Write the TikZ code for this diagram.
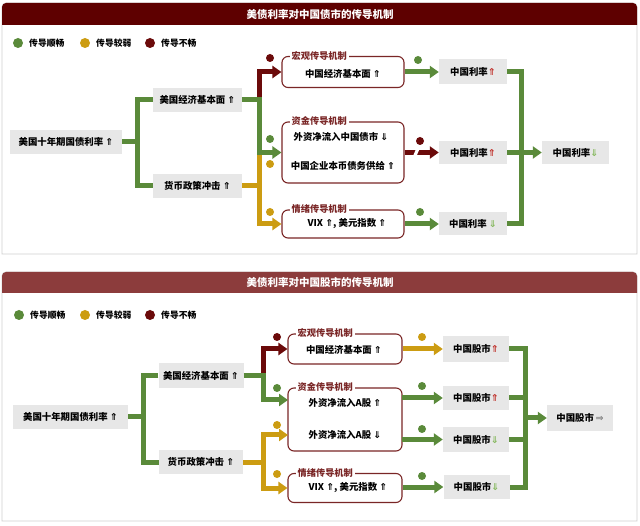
\documentclass[tikz,border=0pt]{standalone}
\usepackage{fontspec}
\setmainfont{Noto Sans CJK SC}
\newfontfamily\arr{DejaVu Sans}
\usetikzlibrary{arrows.meta,calc}
\definecolor{cg}{HTML}{5A8A3A}
\definecolor{cy}{HTML}{CC9C12}
\definecolor{cr}{HTML}{6B0A0A}
\definecolor{hdA}{HTML}{5E0000}
\definecolor{hdB}{HTML}{8C3C3C}
\definecolor{bx}{HTML}{E7E7E7}
\definecolor{mb}{HTML}{7A2626}
\definecolor{upc}{HTML}{C0302A}
\definecolor{dnc}{HTML}{86B85E}
\definecolor{frame}{HTML}{CFCFCF}
\newcommand\UpA[1][black]{{\arr\bfseries\fontsize{9.5}{10}\selectfont\color{#1}⇑}}
\newcommand\DnA[1][black]{{\arr\bfseries\fontsize{9.5}{10}\selectfont\color{#1}⇓}}
\newcommand\RtA[1][black]{{\arr\bfseries\fontsize{9.5}{10}\selectfont\color{#1}⇒}}
\tikzset{
  txt/.style={font=\fontsize{9.4}{11}\selectfont\bfseries, inner sep=0pt},
  gbox/.style={txt, fill=bx, minimum height=24pt},
  mbox/.style={draw=mb, line width=1.1pt, rounded corners=6pt, inner sep=0pt},
  mlab/.style={fill=white, text=mb, anchor=west, inner xsep=2pt, inner ysep=1pt, font=\fontsize{9.2}{10}\selectfont\bfseries},
  cn/.style={line width=5pt},
  ar/.style={cn, -{Triangle[length=9pt,width=12pt]}},
  fdot/.style={circle, inner sep=0pt, minimum size=8pt},
  ldot/.style={circle, inner sep=0pt, minimum size=10pt},
  ltxt/.style={font=\fontsize{8.8}{10}\selectfont\bfseries, anchor=west, inner sep=0pt},
  ttl/.style={font=\fontsize{10.5}{12}\selectfont\bfseries, text=white, inner sep=0pt}
}
\begin{document}
\begin{tikzpicture}[x=1pt,y=-1pt]
\fill[white] (0,0) rectangle (640,526);
\useasboundingbox (0,0) rectangle (640,526);

% ===== panel frames =====
\draw[frame, line width=0.8pt] (2,254) {[rounded corners=4pt] -- (2,3) -- (637,3)} -- (637,254) -- cycle;
\fill[hdA] (2,25) {[rounded corners=4pt] -- (2,3) -- (637,3)} -- (637,25) -- cycle;
\node[ttl] (t_title) at (320,14) {美债利率对中国债市的传导机制};

\draw[frame, line width=0.8pt] (2,521) {[rounded corners=4pt] -- (2,272) -- (637,272)} -- (637,521) -- cycle;
\fill[hdB] (2,293) {[rounded corners=4pt] -- (2,272) -- (637,272)} -- (637,293) -- cycle;
\node[ttl] (b_title) at (320,282.5) {美债利率对中国股市的传导机制};

% ===== legends =====
\node[ldot, fill=cg] (t_l1) at (18,43) {};
\node[ltxt] (t_l1t) at (29,43) {传导顺畅};
\node[ldot, fill=cy] (t_l2) at (85,43) {};
\node[ltxt] (t_l2t) at (96,43) {传导较弱};
\node[ldot, fill=cr] (t_l3) at (150,43) {};
\node[ltxt] (t_l3t) at (161,43) {传导不畅};

\node[ldot, fill=cg] (b_l1) at (19,315) {};
\node[ltxt] (b_l1t) at (30,315) {传导顺畅};
\node[ldot, fill=cy] (b_l2) at (85,315) {};
\node[ltxt] (b_l2t) at (96,315) {传导较弱};
\node[ldot, fill=cr] (b_l3) at (150,315) {};
\node[ltxt] (b_l3t) at (161,315) {传导不畅};

% ===== top panel nodes =====
\node[gbox, minimum width=112pt] (t_us) at (66,142) {美国十年期国债利率 \UpA};
\node[gbox, minimum width=89pt] (t_econ) at (197.5,100) {美国经济基本面 \UpA};
\node[gbox, minimum width=89pt] (t_mon) at (197.5,186) {货币政策冲击 \UpA};

\node[mbox, minimum width=122pt, minimum height=31pt] (t_macro) at (343,72) {};
\node[mlab] (t_macrol) at ([xshift=8pt]t_macro.north west) {宏观传导机制};
\node[txt] (t_macrot) at (343,74) {中国经济基本面 \UpA};

\node[mbox, minimum width=122pt, minimum height=61pt] (t_fund) at (343,152.5) {};
\node[mlab] (t_fundl) at ([xshift=8pt]t_fund.north west) {资金传导机制};
\node[txt] (t_fundt1) at (341,137) {外资净流入中国债市 \DnA};
\node[txt] (t_fundt2) at (343,166) {中国企业本币债务供给 \UpA};

\node[mbox, minimum width=122pt, minimum height=28pt] (t_sent) at (343,224) {};
\node[mlab] (t_sentl) at ([xshift=8pt]t_sent.north west) {情绪传导机制};
\node[txt] (t_sentt) at (347,224) {VIX \UpA, 美元指数 \UpA};

\node[gbox, minimum width=68pt, minimum height=25pt] (t_r1) at (473,72) {中国利率\UpA[upc]};
\node[gbox, minimum width=68pt, minimum height=23pt] (t_r2) at (473,152.5) {中国利率\UpA[upc]};
\node[gbox, minimum width=68pt, minimum height=23pt] (t_r3) at (473,224) {中国利率 \DnA[dnc]};
\node[gbox, minimum width=67pt, minimum height=23pt] (t_fin) at (575.5,152.5) {中国利率\DnA[dnc]};

% ===== top panel connectors =====
\coordinate (t_j1) at (137,142);
\draw[cn,cg] (t_us.east) -- (t_j1);
\draw[cn,cg] (t_econ.west) -| (t_j1) |- (t_mon.west);

\coordinate (t_j2) at (259,100);
\coordinate (t_j2e) at (261.5,100);
\coordinate (t_j2r) at (259,97.5);
\draw[cn,cg] (t_econ.east) -- (t_j2e);
\draw[ar,cg] (t_j2) |- (t_fund.west);
\draw[ar,cr] (t_j2r) |- (t_macro.west);

\coordinate (t_j3) at (261.5,186);
\coordinate (t_j3t) at (259,155);
\draw[cn,cy] (t_mon.east) -- (t_j3);
\draw[ar,cy] (t_j3t) |- (t_sent.west);

\draw[ar,cg] (t_macro.east) -- (t_r1.west);
\draw[ar,cr] (t_fund.east) -- (t_r2.west);
\fill[white] (413,156) -- (416.5,156) -- (419.5,149) -- (416,149) -- cycle;
\draw[ar,cg] (t_sent.east) -- (t_r3.west);

\coordinate (t_j4) at (521,152.5);
\draw[cn,cg] (t_r1.east) -| (t_j4) |- (t_r3.east);
\draw[ar,cg] (t_r2.east) -- (t_fin.west);

% dots top
\node[fdot, fill=cr] (t_d1) at (270,58) {};
\node[fdot, fill=cg] (t_d2) at (270,139) {};
\node[fdot, fill=cy] (t_d3) at (270,164) {};
\node[fdot, fill=cy] (t_d4) at (270,212) {};
\node[fdot, fill=cg] (t_d5) at (418,60) {};
\node[fdot, fill=cr] (t_d6) at (420,141) {};
\node[fdot, fill=cg] (t_d7) at (420,212) {};

% ===== bottom panel nodes =====
\node[gbox, minimum width=115pt] (b_us) at (70.5,417) {美国十年期国债利率 \UpA};
\node[gbox, minimum width=85pt, minimum height=25pt] (b_econ) at (201,376) {美国经济基本面 \UpA};
\node[gbox, minimum width=84pt] (b_mon) at (201,462) {货币政策冲击 \UpA};

\node[mbox, minimum width=114pt, minimum height=30pt] (b_macro) at (345,349) {};
\node[mlab] (b_macrol) at ([xshift=8pt]b_macro.north west) {宏观传导机制};
\node[txt] (b_macrot) at (344,350) {中国经济基本面 \UpA};

\node[mbox, minimum width=114pt, minimum height=63pt] (b_fund) at (345,419.5) {};
\node[mlab] (b_fundl) at ([xshift=8pt]b_fund.north west) {资金传导机制};
\node[txt] (b_fundt1) at (345,403) {外资净流入A股 \UpA};
\node[txt] (b_fundt2) at (345,435) {外资净流入A股 \DnA};

\node[mbox, minimum width=114pt, minimum height=29pt] (b_sent) at (345,488) {};
\node[mlab] (b_sentl) at ([xshift=8pt]b_sent.north west) {情绪传导机制};
\node[txt] (b_sentt) at (348,488) {VIX \UpA, 美元指数 \UpA};

\node[gbox, minimum width=66pt, minimum height=26pt] (b_s1) at (476,349) {中国股市\UpA[upc]};
\node[gbox, minimum width=66pt, minimum height=24pt] (b_s2) at (476,398) {中国股市\UpA[upc]};
\node[gbox, minimum width=66pt, minimum height=25pt] (b_s3) at (476,439.5) {中国股市\DnA[dnc]};
\node[gbox, minimum width=66pt, minimum height=24pt] (b_s4) at (476.5,487) {中国股市\DnA[dnc]};
\node[gbox, minimum width=66pt, minimum height=26pt] (b_fin) at (580,418) {中国股市\,\RtA[gray]};

% ===== bottom panel connectors =====
\coordinate (b_j1) at (143,417);
\draw[cn,cg] (b_us.east) -- (b_j1);
\draw[cn,cg] (b_econ.west) -| (b_j1) |- (b_mon.west);

\coordinate (b_j2) at (263,376);
\coordinate (b_j2e) at (265.5,376);
\coordinate (b_j2r) at (263,373.5);
\coordinate (b_fin1) at (288,400);
\draw[cn,cg] (b_econ.east) -- (b_j2e);
\draw[ar,cg] (b_j2) |- (b_fin1);
\draw[ar,cr] (b_j2r) |- (b_macro.west);

\coordinate (b_j3) at (263,462);
\coordinate (b_j3e) at (265.5,462);
\coordinate (b_j3a) at (288,435);
\draw[cn,cy] (b_mon.east) -- (b_j3e);
\draw[ar,cy] (b_j3) |- (b_j3a);
\draw[ar,cy] (b_j3) |- (b_sent.west);

\coordinate (b_fo1) at (402,398);
\coordinate (b_fo2) at (402,439.5);
\draw[ar,cy] (b_macro.east) -- (b_s1.west);
\draw[ar,cg] (b_fo1) -- (b_s2.west);
\draw[ar,cg] (b_fo2) -- (b_s3.west);
\draw[ar,cg] (b_sent.east |- b_s4.west) -- (b_s4.west);

\coordinate (b_j4) at (525,418);
\draw[cn,cg] (b_s1.east) -| (b_j4) |- (b_s4.east);
\draw[cn,cg] (b_s2.east) -- (b_s2.east -| b_j4);
\draw[cn,cg] (b_s3.east) -- (b_s3.east -| b_j4);
\draw[ar,cg] (b_j4) -- (b_fin.west);

% dots bottom
\node[fdot, fill=cr] (b_d1) at (277,337) {};
\node[fdot, fill=cg] (b_d2) at (277,388) {};
\node[fdot, fill=cy] (b_d3) at (277,425) {};
\node[fdot, fill=cy] (b_d4) at (277,474) {};
\node[fdot, fill=cy] (b_d5) at (422,337) {};
\node[fdot, fill=cg] (b_d6) at (422,386) {};
\node[fdot, fill=cg] (b_d7) at (422,429) {};
\node[fdot, fill=cg] (b_d8) at (422,476) {};
\end{tikzpicture}
\end{document}
